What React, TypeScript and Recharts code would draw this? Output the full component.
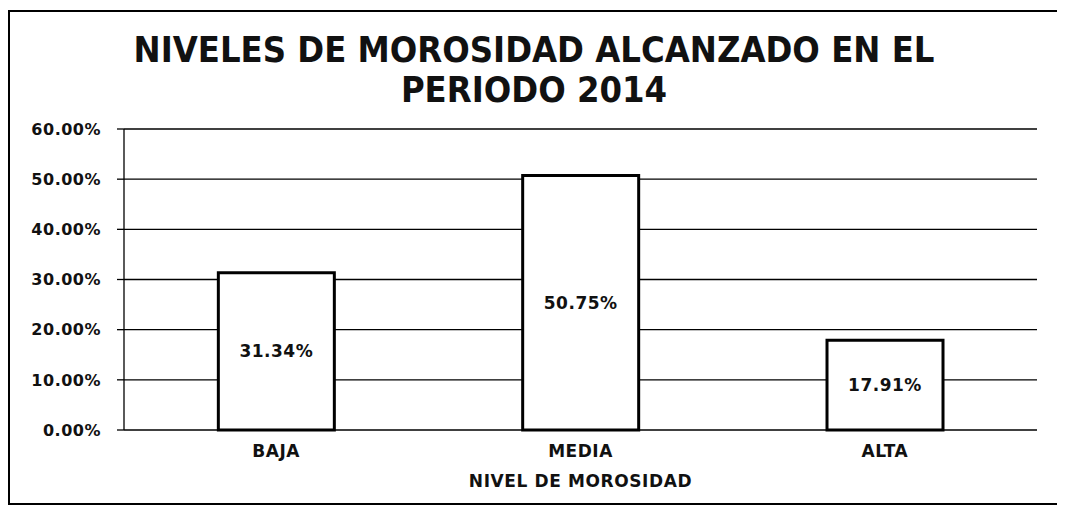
import React from "react";
import { BarChart, Bar, XAxis, YAxis, CartesianGrid, LabelList } from "recharts";

const categories = ["BAJA", "MEDIA", "ALTA"];
const values = [0.3134, 0.5075, 0.1791];
const yTicks = [0, 0.1, 0.2, 0.3, 0.4, 0.5, 0.6];
const boundaryTicks = [0, 1, 2, 3];
const titleLines = ["NIVELES DE MOROSIDAD ALCANZADO EN EL", "PERIODO 2014"];
const xTitle = "NIVEL DE MOROSIDAD";

const data = categories.map((c, i) => ({ name: c, value: values[i], idx: i + 0.5 }));

const pct = (v: number) => (v * 100).toFixed(2) + "%";
const tickFont = "'DejaVu Sans', Verdana, sans-serif";
const titleFont = "'Liberation Sans Narrow', 'DejaVu Sans Condensed', 'Open Sans', sans-serif";

export default function App() {
  return (
    <div
      style={{
        position: "relative",
        width: 1048,
        height: 491,
        border: "2px solid #000",
        marginTop: 2,
        background: "#fff",
      }}
    >
      <div
        style={{
          position: "absolute",
          top: 18,
          left: 0,
          width: "100%",
          textAlign: "center",
          fontFamily: titleFont,
          fontWeight: 700,
          fontSize: 36,
          lineHeight: "40px",
          color: "#111",
        }}
      >
        {titleLines.map((t) => (
          <div key={t}>{t}</div>
        ))}
      </div>
      <BarChart
        width={1048}
        height={491}
        data={data}
        margin={{ top: 117, right: 21, bottom: 13, left: 0 }}
        barCategoryGap="31%"
      >
        <CartesianGrid horizontal vertical={false} stroke="#000" strokeWidth={1.3} />
        <XAxis
          xAxisId="bounds"
          type="number"
          dataKey="idx"
          domain={[0, 3]}
          ticks={boundaryTicks}
          height={0}
          tick={() => <g />}
          tickLine={{ stroke: "#000", strokeWidth: 1.3 }}
          tickSize={6}
          axisLine={{ stroke: "#000", strokeWidth: 1.6 }}
          allowDataOverflow
        />
        <XAxis
          dataKey="name"
          height={60}
          axisLine={false}
          tickLine={false}
          tickMargin={9}
          tick={{ fill: "#111", fontFamily: tickFont, fontWeight: 700, fontSize: 17, letterSpacing: 0.5 }}
          label={{
            value: xTitle,
            position: "insideBottom",
            offset: 3,
            fill: "#111",
            fontFamily: tickFont,
            fontWeight: 700,
            fontSize: 17,
            letterSpacing: 0.6,
          }}
        />
        <YAxis
          width={114}
          domain={[0, 0.6]}
          ticks={yTicks}
          tickFormatter={pct}
          axisLine={{ stroke: "#000", strokeWidth: 1.3 }}
          tickLine={{ stroke: "#000", strokeWidth: 1.3 }}
          tickSize={7}
          tickMargin={16}
          tick={{ fill: "#111", fontFamily: tickFont, fontWeight: 700, fontSize: 16, letterSpacing: 0.5 }}
        />
        <Bar dataKey="value" fill="#fff" stroke="#000" strokeWidth={3} isAnimationActive={false}>
          <LabelList
            dataKey="value"
            position="center"
            formatter={(v: any) => pct(Number(v))}
            fill="#111"
            fontFamily={tickFont}
            fontWeight={700}
            fontSize={17}
            letterSpacing={0.5}
          />
        </Bar>
      </BarChart>
    </div>
  );
}
